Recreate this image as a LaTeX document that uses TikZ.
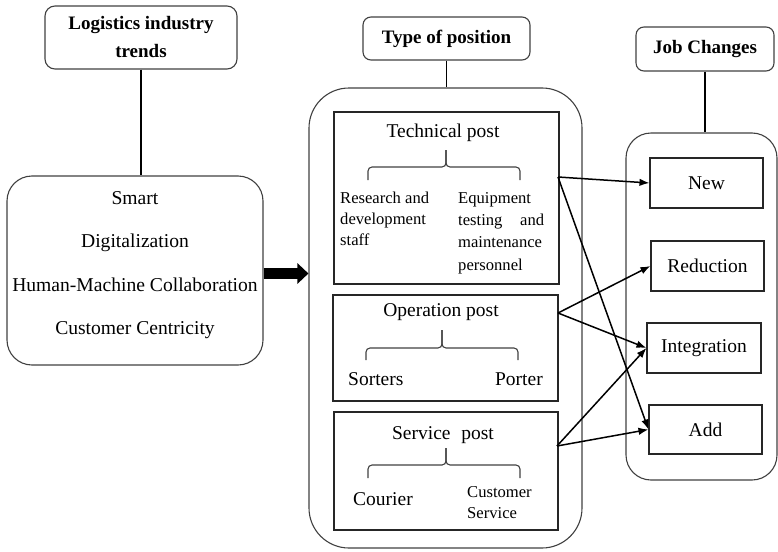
\documentclass[tikz,border=0pt]{standalone}
\usepackage{fontspec}
\setmainfont{Liberation Serif}
\usetikzlibrary{arrows.meta,calc}
\begin{document}
\begin{tikzpicture}[x=1pt,y=-1pt,
  rbox/.style={draw=black!75, line width=1.1pt, inner sep=0pt},
  pbox/.style={draw=black!85, line width=1.1pt, inner sep=0pt},
  conn/.style={line width=1.7pt, black},
  arr/.style={line width=1.5pt, black, -{Latex[length=10pt,width=7.5pt]}},
  brc/.style={draw=black!75, line width=1.1pt, rounded corners=4pt},
  headtxt/.style={font=\fontsize{19}{28}\selectfont\bfseries, align=center, inner sep=0pt},
  txt/.style={font=\fontsize{19.5}{22}\selectfont, inner sep=0pt},
  bigtxt/.style={font=\fontsize{19.6}{43.5}\selectfont, align=center, inner sep=0pt},
  smalltxt/.style={font=\fontsize{16.6}{21}\selectfont, align=left, inner sep=0pt}
]
\useasboundingbox (0,0) rectangle (778,551);

% left column
\node[rbox, rounded corners=10pt, minimum width=192pt, minimum height=63pt, headtxt] (log) at (141,37.5) {Logistics industry\\trends};
\node[rbox, rounded corners=25pt, minimum width=256pt, minimum height=189pt] (left) at (135,270.5) {};
\node[bigtxt] (lefttxt) at (135,265) {Smart\\Digitalization\\Human-Machine Collaboration\\Customer Centricity};

% middle column
\node[rbox, rounded corners=8pt, minimum width=167pt, minimum height=43pt, headtxt] (type) at (446.5,38.5) {Type of position};
\node[rbox, rounded corners=40pt, minimum width=273pt, minimum height=460pt] (mid) at (445.5,318) {};
\node[pbox, minimum width=225pt, minimum height=172pt] (tech) at (446.5,198) {};
\node[pbox, minimum width=225pt, minimum height=106pt] (oper) at (445.5,348) {};
\node[pbox, minimum width=224pt, minimum height=118pt] (serv) at (446,471) {};

\node[txt] (techt) at (443,133) {Technical post};
\node[smalltxt, anchor=north west] (rd) at (340,192) {Research and\\development\\staff};
\node[smalltxt, anchor=north west, font=\fontsize{16.6}{22.3}\selectfont] (eq) at (458,192) {Equipment\\\makebox[86pt][l]{testing\hfill and}\\maintenance\\personnel};

\node[txt] (opert) at (441,312) {Operation post};
\node[txt, anchor=west] (sort) at (348,379) {Sorters};
\node[txt, anchor=east] (port) at (543,379) {Porter};

\node[txt] (servt) at (443,435) {Service\hspace{0.3em} post};
\node[txt, anchor=west] (cour) at (353,499) {Courier};
\node[smalltxt, anchor=north west] (cs) at (467,486) {Customer\\Service};

% braces
\draw[brc] (368,180) -- (368,167) -- (446,167) -- (446,150);
\draw[brc] (520,180) -- (520,167) -- (446,167) -- (446,150);
\draw[brc] (366,360) -- (366,348) -- (442,348) -- (442,330);
\draw[brc] (518,360) -- (518,348) -- (442,348) -- (442,330);
\draw[brc] (368,478) -- (368,465) -- (446,465) -- (446,448);
\draw[brc] (520,478) -- (520,465) -- (446,465) -- (446,448);

% right column
\node[rbox, rounded corners=8pt, minimum width=138pt, minimum height=44pt, headtxt] (job) at (705,49) {Job Changes};
\node[rbox, rounded corners=25pt, minimum width=151pt, minimum height=347pt] (right) at (701.5,306.5) {};
\node[pbox, minimum width=113pt, minimum height=50pt, txt] (new) at (706.5,183) {New};
\node[pbox, minimum width=113pt, minimum height=50pt, txt] (red) at (707.5,266) {Reduction};
\node[pbox, minimum width=114pt, minimum height=50pt, txt] (int) at (704,348) {Integration};
\node[pbox, minimum width=113pt, minimum height=49pt, txt] (add) at (705.5,429.5) {Add};

% vertical connectors
\draw[conn] (log.south) -- (log.south |- left.north);
\draw[conn] (type.south) -- (type.south |- mid.north);
\draw[conn] (job.south) -- (job.south |- right.north);

% thick arrow
\coordinate (ta) at (0,273.5);
\draw[line width=11pt, -{Triangle[length=11pt,width=20pt]}] (left.east |- ta) -- (mid.west |- ta);

% arrows
\coordinate (ts) at (558,177);
\coordinate (os) at (558,313);
\coordinate (ss) at (557,446);
\draw[arr] (ts) -- (new.west);
\draw[arr] (ts) -- (add.west);
\draw[arr] (os) -- (red.west);
\draw[arr] (os) -- (int.west);
\draw[arr] (ss) -- (int.west);
\draw[arr] (ss) -- (add.west);
\end{tikzpicture}
\end{document}
